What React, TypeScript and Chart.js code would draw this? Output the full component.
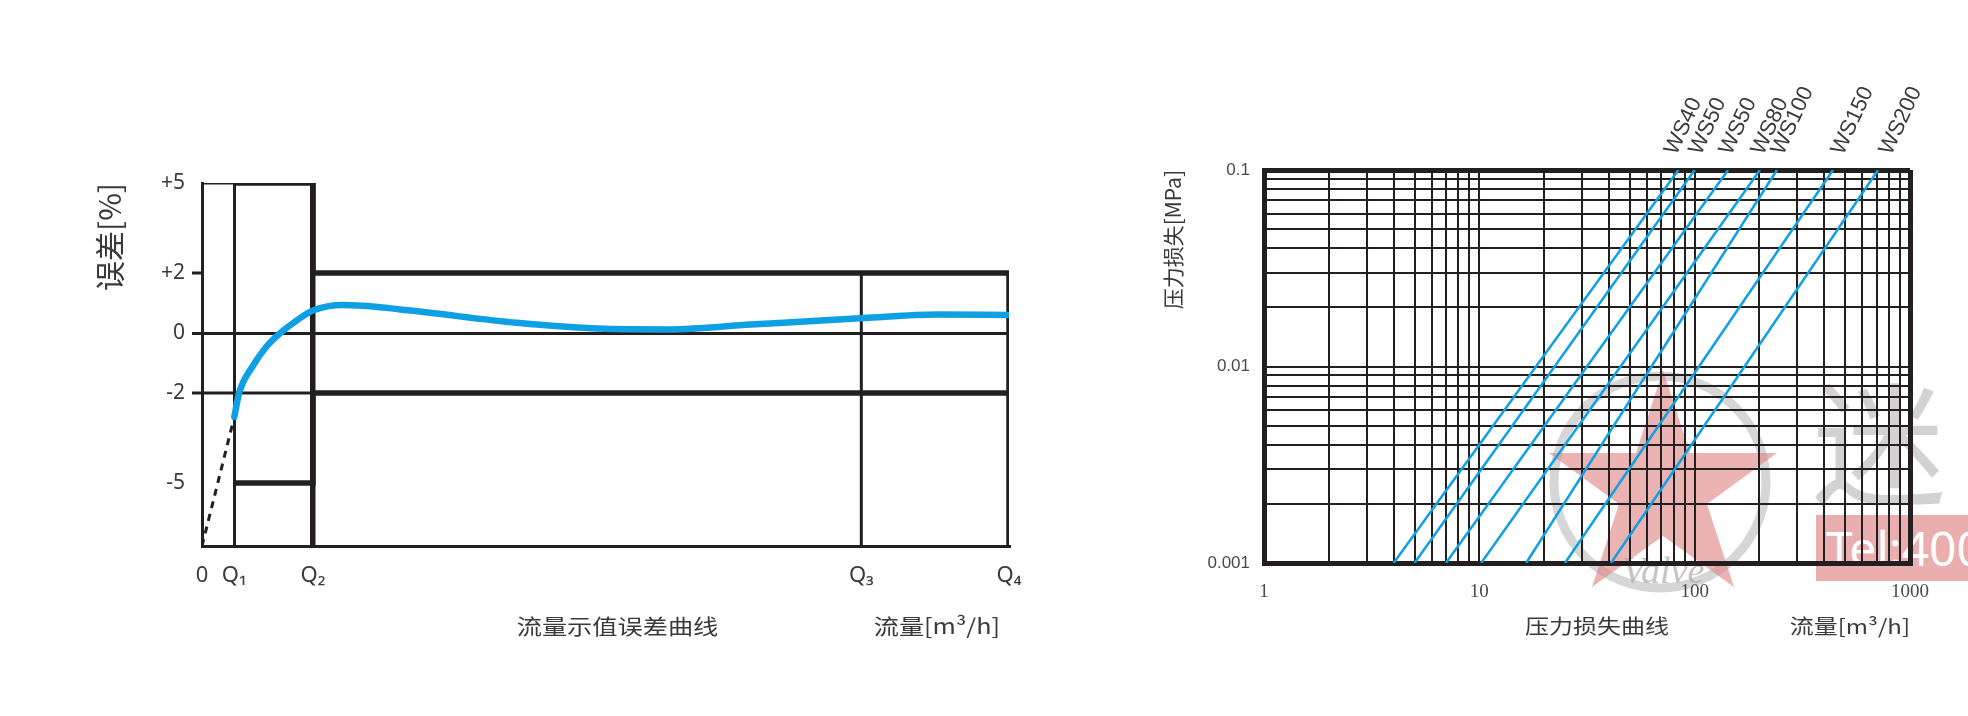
import React, { useEffect, useRef } from 'react';
import { Chart, registerables } from 'chart.js';

Chart.register(...registerables);

const INK = '#231f20';
const TEXT = '#3a3a3a';
const BLUE = '#0fa0e3';
const CJK = '"Noto Sans CJK SC", "Noto Sans", sans-serif';

// ---------- Left chart: 流量示值误差曲线 ----------
const qTickValues = [0, 4, 13.75, 81.7, 100];
const qTickLabels = ['0', 'Q₁', 'Q₂', 'Q₃', 'Q₄'];
const errTickValues = [5, 2, 0, -2, -5];
const errTickLabels = ['+5', '+2', '0', '-2', '-5'];
const errAxisMin = -7.1;
const errAxisMax = 5;

const errCurveFlow = [4, 4.6, 6.3, 8, 9.7, 11.8, 13.75, 17.5, 22, 28, 39, 50, 58, 68, 82, 91, 100];
const errCurveValue = [-2.8, -2.0, -1.1, -0.45, 0, 0.43, 0.75, 0.93, 0.86, 0.68, 0.34, 0.14, 0.12, 0.28, 0.5, 0.62, 0.6];

const startupFlow = [0, 4];
const startupValue = [-7.1, -2.8];

const upperLimitFlow = [4, 13.75, 13.75, 100];
const upperLimitValue = [5, 5, 2, 2];
const lowerLimitFlow = [4, 13.75, 13.75, 100];
const lowerLimitValue = [-5, -5, -2, -2];

const topBandFlow = [0, 4];
const topBandValue = [5, 5];
const minusTwoFlow = [0, 13.75];
const minusTwoValue = [-2, -2];
const q3Flow = [81.7, 81.7];
const q3Value = [2, -7.1];
const q4Flow = [100, 100];
const q4Value = [2, -7.1];

// ---------- Right chart: 压力损失曲线 ----------
const wsLabels = ['WS40', 'WS50', 'WS50', 'WS80', 'WS100', 'WS150', 'WS200'];
const wsFlowAtMinLoss = [4.0, 5.0, 7.0, 10.2, 16.5, 25.0, 40.9];
const wsFlowAtMaxLoss = [84, 100, 143, 201, 241, 439, 711];
const lossMin = 0.001;
const lossMax = 0.1;
const flowMin = 1;
const flowMax = 1000;

const flowGridValues = [
  1, 2, 3, 4, 5, 6, 7, 8, 9,
  10, 20, 30, 40, 50, 60, 70, 80, 90,
  100, 200, 300, 400, 500, 600, 700, 800, 900,
  1000,
];
const lossGridValues = [
  0.001, 0.002, 0.003, 0.004, 0.005, 0.006, 0.007, 0.008, 0.009,
  0.01, 0.02, 0.03, 0.04, 0.05, 0.06, 0.07, 0.08, 0.09,
  0.1,
];
const flowTickValues = [1, 10, 100, 1000];
const flowTickLabels = ['1', '10', '100', '1000'];
const lossTickValues = [0.001, 0.01, 0.1];
const lossTickLabels = ['0.001', '0.01', '0.1'];

// label placement tweaks (pixels, style only)
const wsLabelNudge = [-4, 4, 1, 1, 4, 8, 11];

const pts = (xs: number[], ys: number[]) => xs.map((x, i) => ({ x, y: ys[i] }));
const near = (a: number, b: number) => Math.abs(a - b) <= Math.abs(b) * 1e-6;

const seg = (xs: number[], ys: number[], width: number, extra: any = {}) => ({
  data: pts(xs, ys),
  showLine: true,
  borderColor: INK,
  backgroundColor: INK,
  borderWidth: width,
  pointRadius: 0,
  pointHoverRadius: 0,
  fill: false,
  tension: 0,
  borderCapStyle: 'butt',
  borderJoinStyle: 'miter',
  ...extra,
});

const captionPlugin = (items: any[]) => ({
  id: 'captions',
  afterDraw(chart: any) {
    const { ctx, chartArea } = chart;
    items.forEach((it) => {
      ctx.save();
      ctx.font = `${it.size}px ${CJK}`;
      ctx.fillStyle = TEXT;
      ctx.textBaseline = 'middle';
      ctx.textAlign = it.align;
      const x = it.align === 'center' ? (chartArea.left + chartArea.right) / 2 + it.dx : chartArea.right + it.dx;
      ctx.translate(x, it.y);
      ctx.scale(1.2, 1);
      ctx.fillText(it.text, 0, 0);
      ctx.restore();
    });
  },
});

const wsLabelPlugin = {
  id: 'wsLabels',
  afterDatasetsDraw(chart: any) {
    const { ctx, chartArea, scales } = chart;
    ctx.save();
    ctx.fillStyle = TEXT;
    ctx.font = '22px "Liberation Sans", Arial, sans-serif';
    ctx.textAlign = 'left';
    ctx.textBaseline = 'alphabetic';
    wsLabels.forEach((label, i) => {
      const px = scales.x.getPixelForValue(wsFlowAtMaxLoss[i]);
      ctx.save();
      ctx.translate(px + 2 + wsLabelNudge[i], chartArea.top - 14);
      ctx.rotate((-65 * Math.PI) / 180);
      ctx.fillText(label, 0, 0);
      ctx.restore();
    });
    ctx.restore();
  },
};

function buildErrorChart(): any {
  return {
    type: 'scatter',
    data: {
      datasets: [
        {
          data: pts(errCurveFlow, errCurveValue),
          showLine: true,
          borderColor: BLUE,
          borderWidth: 6.5,
          pointRadius: 0,
          pointHoverRadius: 0,
          fill: false,
          cubicInterpolationMode: 'monotone',
          borderCapStyle: 'round',
        },
        seg(startupFlow, startupValue, 3, { borderDash: [7, 6] }),
        seg(upperLimitFlow, upperLimitValue, 5.5),
        seg(lowerLimitFlow, lowerLimitValue, 5.5),
        seg(topBandFlow, topBandValue, 3),
        seg(minusTwoFlow, minusTwoValue, 3),
        seg(q3Flow, q3Value, 3),
        seg(q4Flow, q4Value, 5.5),
      ],
    },
    options: {
      animation: false,
      responsive: false,
      maintainAspectRatio: false,
      events: [],
      layout: { padding: { top: 183, right: 31, left: 0, bottom: 0 } },
      plugins: { legend: { display: false }, tooltip: { enabled: false } },
      scales: {
        x: {
          type: 'linear',
          min: 0,
          max: 100,
          afterBuildTicks: (s: any) => {
            s.ticks = qTickValues.map((v) => ({ value: v }));
          },
          afterFit: (s: any) => {
            s.height = 170;
          },
          grid: {
            color: INK,
            drawTicks: false,
            lineWidth: (c: any) => {
              const v = c.tick ? c.tick.value : NaN;
              if (v === qTickValues[2]) return 5.5;
              if (v === qTickValues[0] || v === qTickValues[1]) return 3;
              return 0;
            },
          },
          border: { display: true, color: INK, width: 3 },
          ticks: {
            autoSkip: false,
            maxRotation: 0,
            padding: 17,
            color: TEXT,
            font: { family: '"Noto Sans", sans-serif', size: 22 },
            callback: (_v: any, i: number) => qTickLabels[i],
          },
        },
        y: {
          type: 'linear',
          min: errAxisMin,
          max: errAxisMax,
          afterBuildTicks: (s: any) => {
            s.ticks = errTickValues.map((v) => ({ value: v }));
          },
          afterFit: (s: any) => {
            s.width = 202;
          },
          grid: {
            color: INK,
            drawTicks: true,
            tickLength: 10,
            lineWidth: (c: any) => (c.tick && c.tick.value === 0 ? 3 : 0),
            tickWidth: (c: any) => (c.tick && [2, 0, -2].includes(c.tick.value) ? 3 : 0),
            tickColor: INK,
          },
          border: { display: true, color: INK, width: 3 },
          ticks: {
            autoSkip: false,
            padding: 7,
            color: TEXT,
            font: { family: '"Noto Sans", sans-serif', size: 21 },
            callback: (_v: any, i: number) => errTickLabels[i],
          },
          title: {
            display: true,
            text: '误差[%]',
            align: 'end',
            color: TEXT,
            font: { family: CJK, size: 30 },
            padding: { top: 92, bottom: 0 },
          },
        },
      },
    },
    plugins: [
      captionPlugin([
        { text: '流量示值误差曲线', align: 'center', dx: 12, y: 626, size: 21 },
        { text: '流量[m³/h]', align: 'right', dx: -9, y: 626, size: 21 },
      ]),
    ],
  };
}

function buildLossChart(): any {
  const edgeWidth = (v: number, lo: number, hi: number) => (near(v, lo) || near(v, hi) ? 5 : 2);
  return {
    type: 'scatter',
    data: {
      datasets: wsLabels.map((label, i) => ({
        label,
        data: [
          { x: wsFlowAtMinLoss[i], y: lossMin },
          { x: wsFlowAtMaxLoss[i], y: lossMax },
        ],
        showLine: true,
        borderColor: BLUE,
        borderWidth: 2.5,
        pointRadius: 0,
        pointHoverRadius: 0,
        fill: false,
      })),
    },
    options: {
      animation: false,
      responsive: false,
      maintainAspectRatio: false,
      events: [],
      layout: { padding: { top: 170, right: 58, left: 0, bottom: 0 } },
      plugins: { legend: { display: false }, tooltip: { enabled: false } },
      scales: {
        x: {
          type: 'logarithmic',
          min: flowMin,
          max: flowMax,
          afterBuildTicks: (s: any) => {
            s.ticks = flowGridValues.map((v) => ({ value: v }));
          },
          afterFit: (s: any) => {
            s.height = 153;
          },
          grid: {
            color: INK,
            drawTicks: false,
            lineWidth: (c: any) => (c.tick ? edgeWidth(c.tick.value, flowMin, flowMax) : 2),
          },
          border: { display: true, color: INK, width: 5 },
          ticks: {
            autoSkip: false,
            maxRotation: 0,
            padding: 18,
            color: '#4a4a4a',
            font: { family: '"Liberation Serif", serif', size: 19 },
            callback: (v: any) => {
              const k = flowTickValues.findIndex((t) => near(Number(v), t));
              return k >= 0 ? flowTickLabels[k] : '';
            },
          },
        },
        y: {
          type: 'logarithmic',
          min: lossMin,
          max: lossMax,
          afterBuildTicks: (s: any) => {
            s.ticks = lossGridValues.map((v) => ({ value: v }));
          },
          afterFit: (s: any) => {
            s.width = 224;
          },
          grid: {
            color: INK,
            drawTicks: false,
            lineWidth: (c: any) => (c.tick ? edgeWidth(c.tick.value, lossMin, lossMax) : 2),
          },
          border: { display: true, color: INK, width: 5 },
          ticks: {
            autoSkip: false,
            padding: 14,
            color: '#4a4a4a',
            font: { family: '"Liberation Sans", sans-serif', size: 17 },
            callback: (v: any) => {
              const k = lossTickValues.findIndex((t) => near(Number(v), t));
              return k >= 0 ? lossTickLabels[k] : '';
            },
          },
          title: {
            display: true,
            text: '压力损失[MPa]',
            align: 'end',
            color: TEXT,
            font: { family: CJK, size: 21 },
            padding: { top: 120, bottom: 0 },
          },
        },
      },
    },
    plugins: [
      wsLabelPlugin,
      captionPlugin([
        { text: '压力损失曲线', align: 'center', dx: 10, y: 626, size: 20 },
        { text: '流量[m³/h]', align: 'right', dx: 0, y: 626, size: 20 },
      ]),
    ],
  };
}

function ChartCanvas({ build, left, width }: { build: () => any; left: number; width: number }) {
  const ref = useRef<HTMLCanvasElement | null>(null);
  useEffect(() => {
    if (!ref.current) return;
    const chart = new Chart(ref.current, build());
    return () => chart.destroy();
  }, [build]);
  return (
    <canvas
      ref={ref}
      width={width}
      height={716}
      style={{ position: 'absolute', left, top: 0, width, height: 716 }}
    />
  );
}

function Watermark() {
  const star = '1663,370 1690,453 1777,453 1707,504 1734,587 1663,536 1592,587 1619,504 1549,453 1636,453';
  return (
    <>
      <svg width={1968} height={716} style={{ position: 'absolute', left: 0, top: 0 }}>
        <circle cx={1660} cy={482} r={106} fill="none" stroke="#d6d6d6" strokeWidth={9} />
        <polygon points={star} fill="rgba(224,128,128,0.6)" />
      </svg>
      <div
        style={{
          position: 'absolute',
          left: 1622,
          top: 548,
          fontFamily: '"Liberation Serif", serif',
          fontStyle: 'italic',
          fontSize: 38,
          color: 'rgba(170,170,170,0.7)',
        }}
      >
        Valve
      </div>
      <div
        style={{
          position: 'absolute',
          left: 1812,
          top: 364,
          fontFamily: CJK,
          fontSize: 134,
          lineHeight: '146px',
          color: '#d2d2d2',
          whiteSpace: 'nowrap',
        }}
      >
        迷
      </div>
      <div
        style={{
          position: 'absolute',
          left: 1816,
          top: 515,
          width: 160,
          height: 66,
          background: 'rgba(222,120,120,0.6)',
          color: '#fff',
          fontFamily: '"Noto Sans", sans-serif',
          fontSize: 48,
          lineHeight: '66px',
          paddingLeft: 10,
          whiteSpace: 'nowrap',
          overflow: 'hidden',
        }}
      >
        Tel:400
      </div>
    </>
  );
}

export default function App() {
  return (
    <div
      style={{
        position: 'absolute',
        left: 0,
        top: 0,
        width: 1968,
        height: 716,
        overflow: 'hidden',
        background: '#fff',
      }}
    >
      <Watermark />
      <ChartCanvas build={buildErrorChart} left={0} width={1040} />
      <ChartCanvas build={buildLossChart} left={1040} width={928} />
    </div>
  );
}
